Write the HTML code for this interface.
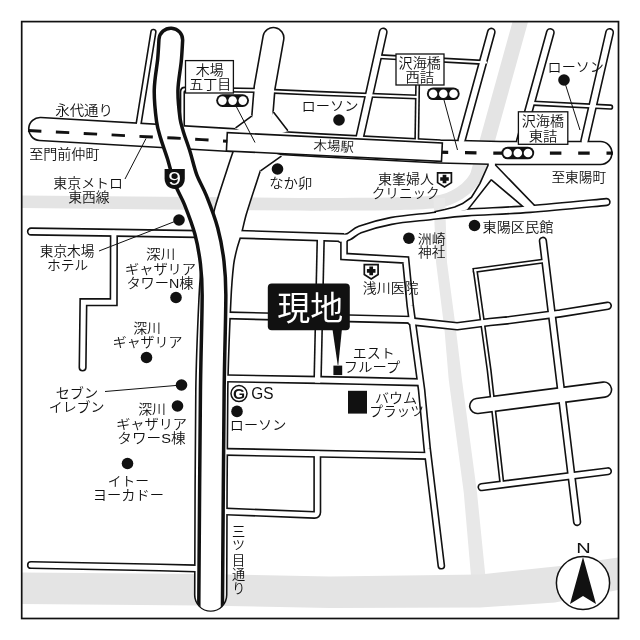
<!DOCTYPE html>
<html lang="ja"><head><meta charset="utf-8"><title>現地案内図</title>
<style>html,body{margin:0;padding:0;background:#fff}svg{display:block;filter:grayscale(1)}
text{font-family:"Liberation Sans","Noto Sans CJK JP",sans-serif;fill:#111;font-weight:350}</style></head>
<body>
<svg width="640" height="640" viewBox="0 0 640 640">
<rect width="640" height="640" fill="#fff"/>
<defs><clipPath id="fr"><rect x="21.7" y="21.6" width="596.8" height="596.9"/></clipPath></defs>
<g clip-path="url(#fr)">
<g fill="none" stroke="#e4e4e4">
<path d="M22,201.8 C68.33,202.22 247.00,203.90 300,204.3 C315.20,204.41 324.80,204.31 340,204.2 C356.67,204.08 383.23,204.10 400,203.6 C415.45,203.14 430.70,202.90 440.6,201.2 C448.22,199.89 454.18,196.52 459.4,193.4 C464.62,190.28 468.47,186.73 471.9,182.5 C475.33,178.27 477.87,173.42 480,168 C482.13,162.58 482.82,156.82 484.7,150 C491.27,126.17 513.15,47.50 519.4,25 C520.46,21.20 521.73,16.67 522.2,15" stroke-width="12.6"/>
<path d="M477.5,176 L484.7,150 L519.4,25 L522.2,15" stroke-width="15"/>
</g>
<path d="M433.5,198 L436,262 L444.5,330 L448.75,380 L463.75,492.5 L471.5,582 L486,582 L477,492.5 L462,380 L456,330 L447,262 L445,198 Z" fill="#e8e8e8"/>
<g>
</g>
<path d="M22,572.5 L200,574 L330,576.5 L480,574.5 L560,566 L618,557.5 L618,590 L555,602.5 L480,607.5 L330,608 L200,605.5 L22,604Z" fill="#e4e4e4"/>
<g fill="none" stroke="#111" stroke-linejoin="round">
<path d="M40.2,129 L227,139.8 L320,145.3 L440,151.5 L500,153 L600.5,153" stroke-width="24.5" stroke-linecap="round" stroke-linejoin="round"/>
<path d="M273.4,38 L264.6,87.5 L262.3,116 L261,145" stroke-width="22.5" stroke-linecap="round" stroke-linejoin="round"/>
<path d="M250.5,150 C250.17,151.00 249.27,153.72 248.5,156 C247.38,159.33 245.49,164.66 243.75,170 C240.87,178.83 234.17,199.00 231.2,209 C228.85,216.89 227.53,224.00 225.9,230 C224.34,235.74 222.75,239.58 221.4,245 C220.05,250.42 218.60,255.76 217.8,262.5 C216.72,271.67 215.57,285.72 214.9,300 C213.90,321.25 212.29,355.78 211.8,390 C211.10,439.17 210.88,560.83 210.7,595" stroke-width="33.6" stroke-linecap="round" stroke-linejoin="round"/>
<path d="M153.4,32 L138.6,124" stroke-width="6.5" stroke-linecap="round" stroke-linejoin="round"/>
<path d="M256,90.4 L185,89.2 Q182.4,89.2 182.4,92 L182.4,128" stroke-width="5.3" stroke-linecap="butt" stroke-linejoin="round"/>
<path d="M383.2,32 L359.6,138" stroke-width="9" stroke-linecap="round" stroke-linejoin="round"/>
<path d="M380,56.7 L486,62.5" stroke-width="5.3" stroke-linecap="butt" stroke-linejoin="round"/>
<path d="M274,91.4 L320,93.4 L417,97" stroke-width="5.2" stroke-linecap="butt" stroke-linejoin="round"/>
<path d="M418,59 L416.8,139" stroke-width="5" stroke-linecap="butt" stroke-linejoin="round"/>
<path d="M491.3,32 L461.6,140" stroke-width="8.8" stroke-linecap="round" stroke-linejoin="round"/>
<path d="M550.3,32.5 L520.3,141" stroke-width="9" stroke-linecap="round" stroke-linejoin="round"/>
<path d="M609.6,32.5 L584.6,141" stroke-width="9" stroke-linecap="round" stroke-linejoin="round"/>
<path d="M533,103.2 L610.5,107.1" stroke-width="5.5" stroke-linecap="round" stroke-linejoin="round"/>
<path d="M341,239 C342.33,238.58 346.15,237.92 349,236.5 C352.17,234.92 355.35,231.22 360,229.5 C367.00,226.92 379.33,223.20 391,221 C402.67,218.80 417.33,217.72 430,216.3 C442.67,214.88 452.90,213.53 467,212.5 C483.67,211.28 506.75,210.75 530,209 C553.25,207.25 593.75,203.17 606.5,202" stroke-width="8.4" stroke-linecap="round" stroke-linejoin="round"/>
<path d="M238,234.3 L344,237.6" stroke-width="9.2" stroke-linecap="butt" stroke-linejoin="round"/>
<path d="M320.75,237 L317.6,380" stroke-width="8.5" stroke-linecap="butt" stroke-linejoin="round"/>
<path d="M344,239 L344,256.5 L405.7,260 L410.2,305.6 L421.6,390 L427.2,448.75 L441.3,565.7" stroke-width="7.8" stroke-linecap="round" stroke-linejoin="miter"/>
<path d="M228,315.4 L411,319.8" stroke-width="8.2" stroke-linecap="butt" stroke-linejoin="round"/>
<path d="M411,321.4 L416,321.9 L457.2,326.3 L490,322 L507,320.4 L560,313.4 L607.7,305.8" stroke-width="8.6" stroke-linecap="round" stroke-linejoin="round"/>
<path d="M227,378.4 L320,380 L360,380.8 L419,382.2" stroke-width="8.4" stroke-linecap="butt" stroke-linejoin="round"/>
<path d="M227,451.9 L360,454.5 L427,455.8" stroke-width="8.2" stroke-linecap="butt" stroke-linejoin="round"/>
<path d="M317.3,454 L317.3,512.3 Q317.3,515 314.5,514.9 L227,511.6" stroke-width="8" stroke-linecap="butt" stroke-linejoin="round"/>
<path d="M542.9,240.8 L577.1,522" stroke-width="8.4" stroke-linecap="round" stroke-linejoin="round"/>
<path d="M475.2,270.3 L482.2,320 L489.1,370 L502.2,486" stroke-width="5.2" stroke-linecap="butt" stroke-linejoin="miter"/>
<path d="M475.2,270.3 L543,261.1" stroke-width="5.2" stroke-linecap="square" stroke-linejoin="miter"/>
<path d="M477.25,406 L604,389.6" stroke-width="16.7" stroke-linecap="round" stroke-linejoin="round"/>
<path d="M481.6,487.1 L607.9,471.25" stroke-width="8.3" stroke-linecap="round" stroke-linejoin="round"/>
<path d="M31,231.5 L100,232.5 L197,234" stroke-width="8.3" stroke-linecap="round" stroke-linejoin="round"/>
<path d="M113.9,233 L113.7,302.2 L83.4,302.2 L82.6,367.5" stroke-width="8.2" stroke-linecap="round" stroke-linejoin="miter"/>
<path d="M31,565 L160,567.5 L196,568.4" stroke-width="8.2" stroke-linecap="round" stroke-linejoin="round"/>
<path d="M488.8,160 L488.8,165.6 L480.7,183.75 L472,197.9 L463,204.3 L455,207.7 L445,210.2 L436,212.2 L436,217 L467,209.4 L490.6,179.2 L491.9,179.2 L527.5,209.4 L536,209.5 L533.5,205.5 L494.9,165.6 L494.9,160Z" stroke-width="3.2" stroke-linejoin="miter"/>
</g>
<g fill="none" stroke="#fff" stroke-linejoin="round">
<path d="M40.2,129 L227,139.8 L320,145.3 L440,151.5 L500,153 L600.5,153" stroke-width="21.3" stroke-linecap="round" stroke-linejoin="round"/>
<path d="M273.4,38 L264.6,87.5 L262.3,116 L261,145" stroke-width="19.3" stroke-linecap="round" stroke-linejoin="round"/>
<path d="M250.5,150 C250.17,151.00 249.27,153.72 248.5,156 C247.38,159.33 245.49,164.66 243.75,170 C240.87,178.83 234.17,199.00 231.2,209 C228.85,216.89 227.53,224.00 225.9,230 C224.34,235.74 222.75,239.58 221.4,245 C220.05,250.42 218.60,255.76 217.8,262.5 C216.72,271.67 215.57,285.72 214.9,300 C213.90,321.25 212.29,355.78 211.8,390 C211.10,439.17 210.88,560.83 210.7,595" stroke-width="30.4" stroke-linecap="round" stroke-linejoin="round"/>
<path d="M153.4,32 L138.6,124" stroke-width="3.3" stroke-linecap="round" stroke-linejoin="round"/>
<path d="M256,90.4 L185,89.2 Q182.4,89.2 182.4,92 L182.4,128" stroke-width="2.1" stroke-linecap="square" stroke-linejoin="round"/>
<path d="M383.2,32 L359.6,138" stroke-width="5.8" stroke-linecap="round" stroke-linejoin="round"/>
<path d="M380,56.7 L486,62.5" stroke-width="2.1" stroke-linecap="square" stroke-linejoin="round"/>
<path d="M274,91.4 L320,93.4 L417,97" stroke-width="2" stroke-linecap="square" stroke-linejoin="round"/>
<path d="M418,59 L416.8,139" stroke-width="1.8" stroke-linecap="square" stroke-linejoin="round"/>
<path d="M491.3,32 L461.6,140" stroke-width="5.6" stroke-linecap="round" stroke-linejoin="round"/>
<path d="M550.3,32.5 L520.3,141" stroke-width="5.8" stroke-linecap="round" stroke-linejoin="round"/>
<path d="M609.6,32.5 L584.6,141" stroke-width="5.8" stroke-linecap="round" stroke-linejoin="round"/>
<path d="M533,103.2 L610.5,107.1" stroke-width="2.3" stroke-linecap="round" stroke-linejoin="round"/>
<path d="M341,239 C342.33,238.58 346.15,237.92 349,236.5 C352.17,234.92 355.35,231.22 360,229.5 C367.00,226.92 379.33,223.20 391,221 C402.67,218.80 417.33,217.72 430,216.3 C442.67,214.88 452.90,213.53 467,212.5 C483.67,211.28 506.75,210.75 530,209 C553.25,207.25 593.75,203.17 606.5,202" stroke-width="5.2" stroke-linecap="round" stroke-linejoin="round"/>
<path d="M238,234.3 L344,237.6" stroke-width="6" stroke-linecap="square" stroke-linejoin="round"/>
<path d="M320.75,237 L317.6,380" stroke-width="5.3" stroke-linecap="square" stroke-linejoin="round"/>
<path d="M344,239 L344,256.5 L405.7,260 L410.2,305.6 L421.6,390 L427.2,448.75 L441.3,565.7" stroke-width="4.6" stroke-linecap="round" stroke-linejoin="miter"/>
<path d="M228,315.4 L411,319.8" stroke-width="5" stroke-linecap="square" stroke-linejoin="round"/>
<path d="M411,321.4 L416,321.9 L457.2,326.3 L490,322 L507,320.4 L560,313.4 L607.7,305.8" stroke-width="5.4" stroke-linecap="round" stroke-linejoin="round"/>
<path d="M227,378.4 L320,380 L360,380.8 L419,382.2" stroke-width="5.2" stroke-linecap="square" stroke-linejoin="round"/>
<path d="M227,451.9 L360,454.5 L427,455.8" stroke-width="5" stroke-linecap="square" stroke-linejoin="round"/>
<path d="M317.3,454 L317.3,512.3 Q317.3,515 314.5,514.9 L227,511.6" stroke-width="4.8" stroke-linecap="square" stroke-linejoin="round"/>
<path d="M542.9,240.8 L577.1,522" stroke-width="5.2" stroke-linecap="round" stroke-linejoin="round"/>
<path d="M475.2,270.3 L482.2,320 L489.1,370 L502.2,486" stroke-width="2" stroke-linecap="square" stroke-linejoin="miter"/>
<path d="M475.2,270.3 L543,261.1" stroke-width="2" stroke-linecap="square" stroke-linejoin="miter"/>
<path d="M477.25,406 L604,389.6" stroke-width="13.5" stroke-linecap="round" stroke-linejoin="round"/>
<path d="M481.6,487.1 L607.9,471.25" stroke-width="5.1" stroke-linecap="round" stroke-linejoin="round"/>
<path d="M31,231.5 L100,232.5 L197,234" stroke-width="5.1" stroke-linecap="round" stroke-linejoin="round"/>
<path d="M113.9,233 L113.7,302.2 L83.4,302.2 L82.6,367.5" stroke-width="5" stroke-linecap="round" stroke-linejoin="miter"/>
<path d="M31,565 L160,567.5 L196,568.4" stroke-width="5" stroke-linecap="round" stroke-linejoin="round"/>
<path d="M488.8,160 L488.8,165.6 L480.7,183.75 L472,197.9 L463,204.3 L455,207.7 L445,210.2 L436,212.2 L436,217 L467,209.4 L490.6,179.2 L491.9,179.2 L527.5,209.4 L536,209.5 L533.5,205.5 L494.9,165.6 L494.9,160Z" fill="#fff" stroke="none"/>
</g>
<path d="M236,127.6 L251.3,116.4 L257,135Z" fill="#fff" stroke="#fff" stroke-width="2.2" stroke-linejoin="round"/>
<path d="M236,127.6 L251.3,116.4" stroke="#111" stroke-width="1.6" fill="none" stroke-linecap="round"/>
<path d="M273.8,112.5 L287.5,130.2 L268,136Z" fill="#fff" stroke="#fff" stroke-width="2.2" stroke-linejoin="round"/>
<path d="M273.8,112.5 L287.5,130.2" stroke="#111" stroke-width="1.6" fill="none" stroke-linecap="round"/>
<path d="M281,156.4 L260.9,170.6 L258,150Z" fill="#fff" stroke="#fff" stroke-width="2.2" stroke-linejoin="round"/>
<path d="M281,156.4 L260.9,170.6" stroke="#111" stroke-width="1.6" fill="none" stroke-linecap="round"/>
<path d="M436.7,152.2 L500,153.2 L613,153.2" fill="none" stroke="#111" stroke-width="3.2" stroke-dasharray="11.5 16.8"/>
<g transform="translate(0 0.6) rotate(2.75 227.3 132)"><rect x="227.3" y="132" width="215.3" height="18.4" fill="#fff" stroke="#111" stroke-width="1.6"/><text x="314" y="145.2" font-size="13.4" textLength="40.5" lengthAdjust="spacingAndGlyphs">木場駅</text></g>
<clipPath id="ec"><rect x="0" y="0" width="640" height="595"/><circle cx="210.7" cy="595" r="15.6"/></clipPath>
<g clip-path="url(#ec)">
<path d="M170.8,40 C170.58,43.33 170.21,52.42 169.5,60 C168.72,68.33 166.30,80.00 166.1,90 C165.90,100.00 167.32,112.50 168.3,120 C169.06,125.82 170.33,129.37 172,135 C173.73,140.83 176.42,147.67 178.7,155 C180.98,162.33 182.92,171.50 185.7,179 C188.48,186.50 192.16,191.83 195.4,200 C198.83,208.67 203.50,220.58 206.3,231 C209.10,241.42 210.92,251.83 212.2,262.5 C213.48,273.17 213.99,282.63 214,295 C214.02,316.25 212.70,353.90 212.3,390 C211.75,440.00 210.98,555.83 210.7,595 C210.62,606.40 210.62,620.00 210.6,625" fill="none" stroke="#111" stroke-width="27.2" stroke-linecap="round"/>
<path d="M170.8,40 C170.58,43.33 170.21,52.42 169.5,60 C168.72,68.33 166.30,80.00 166.1,90 C165.90,100.00 167.32,112.50 168.3,120 C169.06,125.82 170.33,129.37 172,135 C173.73,140.83 176.42,147.67 178.7,155 C180.98,162.33 182.92,171.50 185.7,179 C188.48,186.50 192.16,191.83 195.4,200 C198.83,208.67 203.50,220.58 206.3,231 C209.10,241.42 210.92,251.83 212.2,262.5 C213.48,273.17 213.99,282.63 214,295 C214.02,316.25 212.70,353.90 212.3,390 C211.75,440.00 210.98,555.83 210.7,595 C210.62,606.40 210.62,620.00 210.6,625" fill="none" stroke="#fff" stroke-width="20.2" stroke-linecap="round"/>
</g>
<path d="M28,130.5 L146,136.7 L174,138 L202,139.6 L227.3,141.2" fill="none" stroke="#111" stroke-width="2.9" stroke-dasharray="13.4 14.5"/>
</g>
<rect x="21.7" y="21.6" width="596.8" height="596.9" fill="none" stroke="#111" stroke-width="1.7"/>
<line x1="125" y1="179" x2="146" y2="138.5" stroke="#111" stroke-width="1"/>
<line x1="99" y1="251" x2="176" y2="221" stroke="#111" stroke-width="1"/>
<line x1="105" y1="391.5" x2="178" y2="385.3" stroke="#111" stroke-width="1"/>
<line x1="236" y1="106" x2="255" y2="142.5" stroke="#111" stroke-width="1"/>
<line x1="444" y1="100" x2="457.5" y2="150" stroke="#111" stroke-width="1"/>
<line x1="564" y1="80" x2="580" y2="130" stroke="#111" stroke-width="1"/>
<circle cx="179" cy="220" r="5.8" fill="#111"/>
<circle cx="176" cy="297.5" r="5.8" fill="#111"/>
<circle cx="146.5" cy="357.5" r="5.8" fill="#111"/>
<circle cx="181.5" cy="385" r="5.8" fill="#111"/>
<circle cx="177.5" cy="406" r="5.8" fill="#111"/>
<circle cx="127.5" cy="463.5" r="5.8" fill="#111"/>
<circle cx="339" cy="120" r="5.8" fill="#111"/>
<circle cx="277.5" cy="169" r="5.8" fill="#111"/>
<circle cx="564" cy="80" r="5.8" fill="#111"/>
<circle cx="408.9" cy="238.2" r="5.8" fill="#111"/>
<circle cx="474.5" cy="225.5" r="5.8" fill="#111"/>
<circle cx="237" cy="411.4" r="5.8" fill="#111"/>
<rect x="185.5" y="60.6" width="47.9" height="32.4" fill="#fff" stroke="#111" stroke-width="1.3"/>
<rect x="216.2" y="94.3" width="32.8" height="12.6" rx="6.3" fill="#111"/>
<circle cx="222.4" cy="100.6" r="4.3" fill="#fff"/>
<circle cx="232.6" cy="100.6" r="4.3" fill="#fff"/>
<circle cx="242.8" cy="100.6" r="4.3" fill="#fff"/>
<rect x="396" y="54" width="48" height="31" fill="#fff" stroke="#111" stroke-width="1.3"/>
<rect x="426.9" y="87.5" width="32.8" height="12.6" rx="6.3" fill="#111"/>
<circle cx="433.1" cy="93.8" r="4.3" fill="#fff"/>
<circle cx="443.3" cy="93.8" r="4.3" fill="#fff"/>
<circle cx="453.5" cy="93.8" r="4.3" fill="#fff"/>
<rect x="518.4" y="111.8" width="49.4" height="32.5" fill="#fff" stroke="#111" stroke-width="1.3"/>
<rect x="501.4" y="146.7" width="32.8" height="12.6" rx="6.3" fill="#111"/>
<circle cx="507.6" cy="153" r="4.3" fill="#fff"/>
<circle cx="517.8" cy="153" r="4.3" fill="#fff"/>
<circle cx="528" cy="153" r="4.3" fill="#fff"/>
<text transform="translate(55.18 114.50) scale(1.096 1)" font-size="13.2">永代通り</text>
<text transform="translate(29.20 158.75) scale(1.066 1)" font-size="13.2">至門前仲町</text>
<text transform="translate(53.21 187.50) scale(1.059 1)" font-size="13.2">東京メトロ</text>
<text transform="translate(68.22 201.75) scale(1.046 1)" font-size="13.2">東西線</text>
<text transform="translate(39.72 256.00) scale(1.039 1)" font-size="13.2">東京木場</text>
<text transform="translate(47.00 269.98) scale(1.040 1)" font-size="13.2">ホテル</text>
<text transform="translate(146.07 259.18) scale(1.105 1)" font-size="13.2">深川</text>
<text transform="translate(124.95 274.38) scale(1.078 1)" font-size="13.2">ギャザリア</text>
<text transform="translate(126.38 288.10) scale(1.079 1)" font-size="13.2">タワーN棟</text>
<text transform="translate(133.21 333.18) scale(1.052 1)" font-size="13.2">深川</text>
<text transform="translate(112.68 346.88) scale(1.059 1)" font-size="13.2">ギャザリア</text>
<text transform="translate(55.70 397.77) scale(1.073 1)" font-size="13.2">セブン</text>
<text transform="translate(48.68 412.30) scale(1.059 1)" font-size="13.2">イレブン</text>
<text transform="translate(138.21 413.62) scale(1.052 1)" font-size="13.2">深川</text>
<text transform="translate(116.16 428.68) scale(1.075 1)" font-size="13.2">ギャザリア</text>
<text transform="translate(117.34 443.05) scale(1.109 1)" font-size="13.2">タワーS棟</text>
<text transform="translate(107.70 485.65) scale(1.041 1)" font-size="13.2">イトー</text>
<text transform="translate(92.84 500.02) scale(1.080 1)" font-size="13.2">ヨーカドー</text>
<text transform="translate(251.28 399.40) scale(0.963 1)" font-size="16">GS</text>
<text transform="translate(229.86 430.27) scale(1.069 1)" font-size="13.2">ローソン</text>
<text transform="translate(269.24 187.50) scale(1.090 1)" font-size="13.2">なか卯</text>
<text transform="translate(301.54 111.47) scale(1.081 1)" font-size="13.2">ローソン</text>
<text transform="translate(547.57 72.28) scale(1.067 1)" font-size="13.2">ローソン</text>
<text transform="translate(377.90 184.40) scale(1.062 1)" font-size="13.2">東峯婦人</text>
<text transform="translate(371.75 197.90) scale(1.031 1)" font-size="13.2">クリニック</text>
<text transform="translate(417.81 243.50) scale(1.056 1)" font-size="13.2">洲崎</text>
<text transform="translate(418.08 257.00) scale(1.035 1)" font-size="13.2">神社</text>
<text transform="translate(362.81 293.30) scale(1.056 1)" font-size="13.2">浅川医院</text>
<text transform="translate(482.50 231.60) scale(1.073 1)" font-size="13.2">東陽区民館</text>
<text transform="translate(551.42 182.20) scale(1.037 1)" font-size="13.2">至東陽町</text>
<text transform="translate(352.67 357.55) scale(1.062 1)" font-size="13.2">エスト</text>
<text transform="translate(343.83 371.90) scale(1.085 1)" font-size="13.2">フループ</text>
<text transform="translate(374.93 402.68) scale(1.067 1)" font-size="13.2">バウム</text>
<text transform="translate(369.18 416.25) scale(1.040 1)" font-size="13.2">プラッツ</text>
<text transform="translate(195.87 75.30) scale(1.053 1)" font-size="13.2">木場</text>
<text transform="translate(189.20 89.03) scale(1.061 1)" font-size="13.2">五丁目</text>
<text transform="translate(398.60 68.05) scale(1.067 1)" font-size="13.2">沢海橋</text>
<text transform="translate(405.38 81.90) scale(1.088 1)" font-size="13.2">西詰</text>
<text transform="translate(521.70 126.45) scale(1.069 1)" font-size="13.2">沢海橋</text>
<text transform="translate(528.79 140.60) scale(1.084 1)" font-size="13.2">東詰</text>
<text transform="translate(576.28 552.75) scale(1.375 1)" font-size="14.6">N</text>
<path d="M437.6,172.8 h13.8 v9.8 l-6.9,4.4 l-6.9,-4.4 Z" fill="#fff" stroke="#111" stroke-width="1.7" stroke-linejoin="miter"/>
<path d="M440.2,179 h8.6 M444.5,174.7 v8.6" stroke="#111" stroke-width="3.7" fill="none"/>
<path d="M364.3,264.7 h13.8 v9.8 l-6.9,4.4 l-6.9,-4.4 Z" fill="#fff" stroke="#111" stroke-width="1.7" stroke-linejoin="miter"/>
<path d="M366.9,270.9 h8.6 M371.2,266.6 v8.6" stroke="#111" stroke-width="3.7" fill="none"/>
<rect x="348" y="390.8" width="19" height="22.8" fill="#111"/>
<text x="237.6" y="524.3" font-size="13.2" style="writing-mode:vertical-rl" textLength="70.5" lengthAdjust="spacing">三ツ目通り</text>
<circle cx="239" cy="393.6" r="8" fill="#fff" stroke="#111" stroke-width="1.5"/>
<text x="239" y="399.4" font-size="15.5" text-anchor="middle" style="font-weight:bold">G</text>
<path d="M164.6,169 H184.8 V178.5 C184.8,185.5 179.5,189 174.7,189 C169.9,189 164.6,185.5 164.6,178.5 Z" fill="#111"/>
<text transform="translate(174.6 185.3) scale(1.28 1)" font-size="18" text-anchor="middle" style="fill:#fff">9</text>
<rect x="267.8" y="283.5" width="82" height="46.7" rx="4" fill="#111"/>
<path d="M332.5,329.5 L341.9,329.5 L338.3,365 L337.7,365 Z" fill="#111"/>
<rect x="333.4" y="365.6" width="8.8" height="9.5" fill="#111"/>
<text transform="translate(277.30 319.85) scale(0.999 1)" font-size="33" style="fill:#fff;font-weight:400">現地</text>
<circle cx="583" cy="583" r="26.6" fill="#fff" stroke="#111" stroke-width="1.5"/>
<path d="M583,557 L596,604 L583,596 L570,604 Z" fill="#111"/>
</svg>
</body></html>
